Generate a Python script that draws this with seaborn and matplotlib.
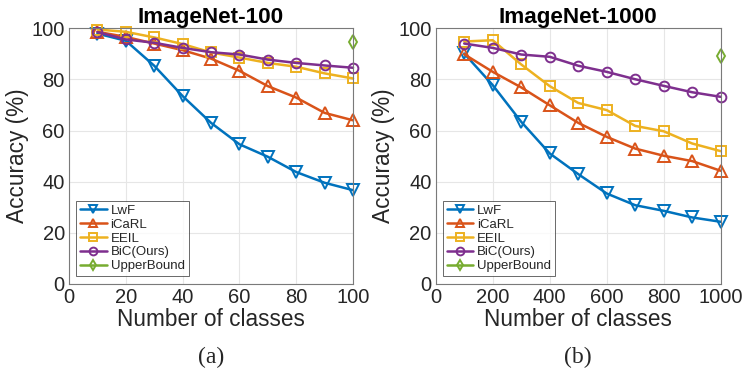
import matplotlib
matplotlib.use("Agg")
import matplotlib.pyplot as plt
import seaborn as sns
import pandas as pd

# ---- data ----
classes_100 = [10, 20, 30, 40, 50, 60, 70, 80, 90, 100]
lwf_100 = [98.0, 95.2, 85.4, 73.5, 63.0, 54.6, 49.7, 43.7, 39.5, 36.6]
icarl_100 = [98.7, 96.7, 94.1, 91.5, 88.2, 83.4, 77.4, 72.9, 66.9, 64.0]
eeil_100 = [99.6, 98.7, 96.5, 93.9, 90.6, 88.6, 86.5, 85.0, 82.4, 80.4]
bic_100 = [98.6, 95.7, 94.4, 92.4, 90.7, 89.8, 87.8, 86.5, 85.5, 84.6]
upper_x_100 = [100]
upper_100 = [94.9]

classes_1000 = [100, 200, 300, 400, 500, 600, 700, 800, 900, 1000]
lwf_1000 = [90.2, 77.8, 63.4, 51.0, 42.9, 35.3, 30.7, 28.5, 25.9, 24.2]
icarl_1000 = [89.9, 83.0, 76.9, 69.9, 63.0, 57.5, 52.9, 50.1, 48.0, 44.2]
eeil_1000 = [94.9, 95.4, 85.9, 77.4, 70.8, 68.0, 61.8, 59.7, 54.9, 51.9]
bic_1000 = [94.1, 92.4, 89.8, 88.9, 85.4, 83.0, 80.1, 77.5, 75.0, 73.2]
upper_x_1000 = [1000]
upper_1000 = [89.2]

methods = ["LwF", "iCaRL", "EEIL", "BiC(Ours)", "UpperBound"]
colors = ["#0072BD", "#D95319", "#EDB120", "#7E2F8E", "#77AC30"]
markers = ["v", "^", "s", "o", "d"]
msizes = [8, 8, 6.5, 7, 7]

sns.set_style("white")
plt.rcParams["font.family"] = ["Liberation Sans", "DejaVu Sans"]

fig = plt.figure(figsize=(7.47, 3.81), dpi=100)
ax1 = fig.add_axes([0.0924, 0.2559, 0.3802, 0.6693])
ax2 = fig.add_axes([0.5833, 0.2559, 0.3815, 0.6693])

panels = [
    (ax1, classes_100, [lwf_100, icarl_100, eeil_100, bic_100], upper_x_100, upper_100,
     "ImageNet-100", [0, 20, 40, 60, 80, 100], 100, "(a)"),
    (ax2, classes_1000, [lwf_1000, icarl_1000, eeil_1000, bic_1000], upper_x_1000, upper_1000,
     "ImageNet-1000", [0, 200, 400, 600, 800, 1000], 1000, "(b)"),
]

for ax, xs, series, ux, uy, title, xticks, xmax, tag in panels:
    for vals, name, c, m, ms in zip(series, methods[:4], colors[:4], markers[:4], msizes[:4]):
        df = pd.DataFrame({"x": xs, "y": vals})
        sns.lineplot(data=df, x="x", y="y", ax=ax, color=c, marker=m, markersize=ms,
                     markerfacecolor="none", markeredgecolor=c, markeredgewidth=1.4,
                     linewidth=1.8, label=name)
    df_u = pd.DataFrame({"x": ux, "y": uy})
    sns.lineplot(data=df_u, x="x", y="y", ax=ax, color=colors[4], marker=markers[4],
                 markersize=msizes[4], markerfacecolor="none", markeredgecolor=colors[4],
                 markeredgewidth=1.4, linewidth=1.8, label=methods[4])
    for ln in ax.lines:
        ln.set_clip_on(False)

    ax.set_xlim(0, xmax)
    ax.set_ylim(0, 100)
    ax.set_xticks(xticks)
    ax.set_yticks([0, 20, 40, 60, 80, 100])
    ax.grid(True, color="#e6e6e6", linewidth=0.8)
    ax.set_axisbelow(True)
    for s in ax.spines.values():
        s.set_color("#7a7a7a")
        s.set_linewidth(0.8)
    ax.tick_params(direction="in", length=3, width=0.6, color="#7a7a7a",
                   labelsize=14.5, labelcolor="#262626", pad=3)
    ax.set_xlabel("Number of classes", fontsize=16.3, color="#262626", labelpad=1)
    ax.set_ylabel("Accuracy (%)", fontsize=16.3, color="#262626", labelpad=2)
    ax.set_title(title, fontsize=16.2, fontweight="bold", color="black", pad=4)

    leg = ax.legend(loc="lower left", fontsize=9.5, frameon=True, fancybox=False,
                    borderaxespad=0.55, labelspacing=0.12, handlelength=2.0,
                    handletextpad=0.3, borderpad=0.3, markerscale=0.8)
    leg.get_frame().set_edgecolor("#262626")
    leg.get_frame().set_linewidth(0.6)
    for t in leg.get_texts():
        t.set_color("#262626")

    pos = ax.get_position()
    fig.text(pos.x0 + pos.width / 2, 0.063, tag, ha="center", va="center",
             fontsize=17, family="Liberation Serif")

fig.savefig("out.png", dpi=100)
